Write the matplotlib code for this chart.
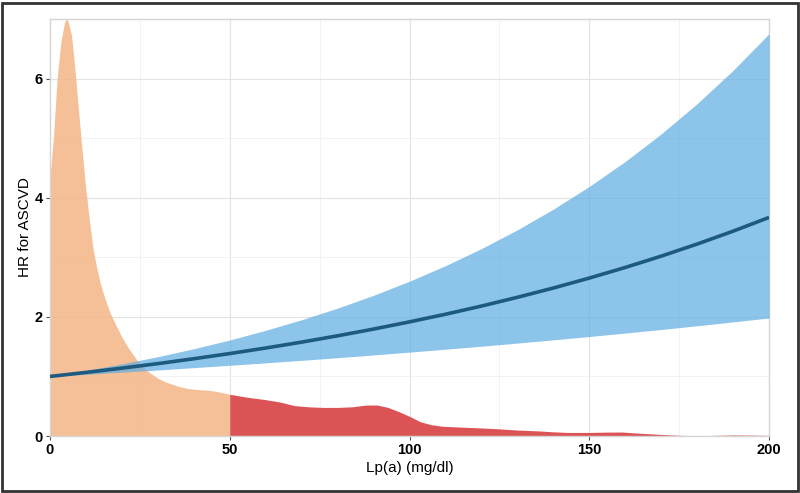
import numpy as np
import matplotlib
matplotlib.use("Agg")
import matplotlib.pyplot as plt
from matplotlib.patches import Rectangle

plt.rcParams['font.family'] = ['Liberation Sans', 'DejaVu Sans']

# HR curve (log-linear)
hr_x = [0, 10, 20, 30, 40, 50, 60, 70, 80, 90, 100, 110, 120, 130, 140, 150, 160, 170, 180, 190, 200]
hr = [1.00, 1.067, 1.139, 1.215, 1.297, 1.384, 1.477, 1.576, 1.682, 1.795, 1.916, 2.044, 2.181,
      2.328, 2.484, 2.651, 2.829, 3.019, 3.222, 3.438, 3.669]
hr_upper = [1.00, 1.100, 1.211, 1.332, 1.465, 1.612, 1.774, 1.952, 2.147, 2.362, 2.599, 2.859,
            3.146, 3.461, 3.808, 4.189, 4.609, 5.071, 5.579, 6.138, 6.753]
hr_lower = [1.000, 1.035, 1.071, 1.108, 1.147, 1.187, 1.228, 1.270, 1.314, 1.360, 1.408, 1.457,
            1.507, 1.560, 1.614, 1.670, 1.728, 1.788, 1.850, 1.915, 1.981]

# Distribution of Lp(a) (scaled density), below 50 mg/dl
dens_low_x = [0, 1, 2, 3, 4, 4.6, 5, 6, 7, 8, 9, 10, 11, 12, 13, 14, 15, 16, 17, 18, 20, 22, 24,
              26, 28, 30, 32, 34, 36, 38, 41, 44, 47, 50]
dens_low = [4.35, 5.05, 6.02, 6.6, 6.93, 7.0, 6.97, 6.72, 6.12, 5.42, 4.75, 4.12, 3.6, 3.14,
            2.82, 2.56, 2.36, 2.18, 2.03, 1.90, 1.66, 1.46, 1.29, 1.15, 1.05, 0.97, 0.91, 0.87,
            0.83, 0.80, 0.78, 0.77, 0.74, 0.70]
# at/above 50 mg/dl
dens_high_x = [50, 52, 55, 60, 64, 68, 72, 76, 80, 84, 88, 91, 94, 97, 100, 103, 106, 109, 114,
               120, 125, 130, 136, 140, 144, 150, 155, 159, 163, 168, 172, 176, 181, 186, 190,
               195, 200]
dens_high = [0.70, 0.68, 0.65, 0.61, 0.57, 0.51, 0.49, 0.48, 0.48, 0.49, 0.52, 0.52, 0.48, 0.41,
             0.33, 0.24, 0.19, 0.165, 0.15, 0.135, 0.12, 0.10, 0.085, 0.07, 0.06, 0.06, 0.065,
             0.067, 0.05, 0.033, 0.02, 0.01, 0.005, 0.012, 0.017, 0.015, 0.01]

xticks = [0, 50, 100, 150, 200]
yticks = [0, 2, 4, 6]

fig = plt.figure(figsize=(8, 4.93), dpi=100)
ax = fig.add_axes([0.0625, 0.1156, 0.8988, 0.8459])

ax.fill_between(dens_low_x, 0, dens_low, color="#F4B788", alpha=0.87, linewidth=0, zorder=2)
ax.fill_between(dens_high_x, 0, dens_high, color="#DA4A4D", alpha=0.95, linewidth=0, zorder=2)
ax.fill_between(hr_x, hr_lower, hr_upper, color="#5DADE2", alpha=0.7, linewidth=0, zorder=3)
ax.plot(hr_x, hr, color="#1D5A80", linewidth=2.6, zorder=4, solid_capstyle="butt")

ax.set_xlim(0, 200)
ax.set_ylim(0, 7)
ax.set_xticks(xticks)
ax.set_yticks(yticks)
ax.set_xticks([25, 75, 125, 175], minor=True)
ax.set_yticks([1, 3, 5], minor=True)
ax.grid(which="major", color="#E3E3E3", linewidth=0.8, zorder=0)
ax.grid(which="minor", color="#F0F0F0", linewidth=0.6, zorder=0)
ax.set_axisbelow(True)
ax.tick_params(which="minor", length=0)
ax.tick_params(which="major", length=3, width=0.8, color="#555555", pad=2)
for lab in ax.get_xticklabels() + ax.get_yticklabels():
    lab.set_fontweight("bold")
    lab.set_fontsize(10.5)
    lab.set_color("black")
for sp in ax.spines.values():
    sp.set_color("#D5D5D5")
    sp.set_linewidth(1.0)

ax.set_xlabel("Lp(a) (mg/dl)", fontsize=11, labelpad=3)
ax.set_ylabel("HR for ASCVD", fontsize=11, labelpad=2)

fig.patches.append(Rectangle((0.003, 0.004), 0.994, 0.99, transform=fig.transFigure,
                             fill=False, edgecolor="#333333", linewidth=2))

fig.savefig("out.png", dpi=100)
